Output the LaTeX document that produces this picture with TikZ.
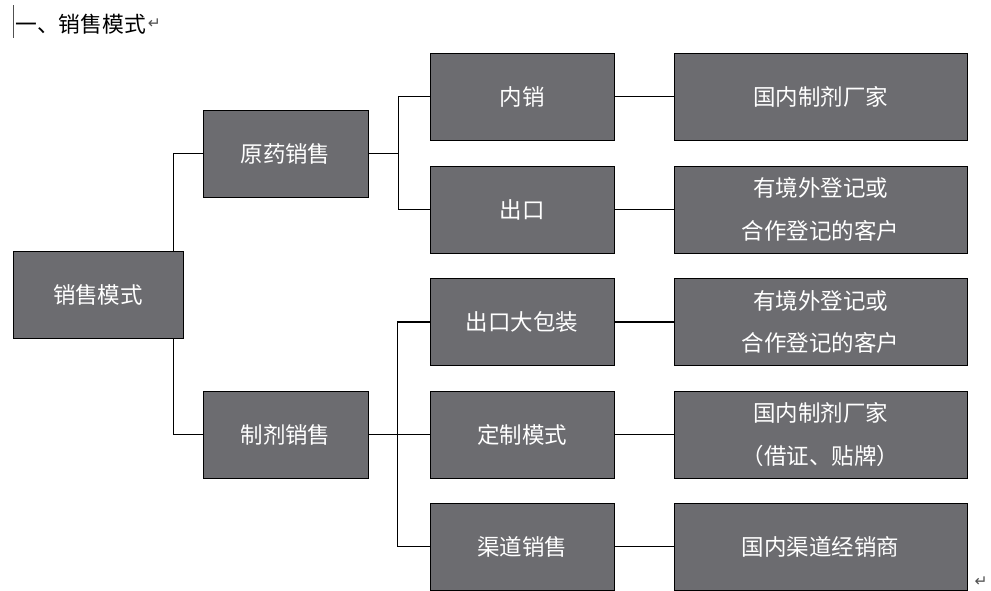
\documentclass[tikz,border=0pt]{standalone}
\usepackage{fontspec}
\usepackage{tikz}
\usetikzlibrary{positioning}
\setmainfont{Noto Sans CJK SC}
\newfontfamily\markfont{DejaVu Sans}
\definecolor{boxgray}{RGB}{108,108,112}
\definecolor{markgray}{RGB}{80,80,80}
\tikzset{
	salebox/.style={draw=black, line width=0.7pt, fill=boxgray, text=white, align=center, inner sep=0pt, minimum height=21.75mm, font=\fontsize{16}{30}\selectfont},
	rootbox/.style={salebox, minimum width=42.5mm},
	kindbox/.style={salebox, minimum width=41.25mm},
	waybox/.style={salebox, minimum width=46mm},
	buyerbox/.style={salebox, minimum width=73.25mm},
	retmark/.style={inner sep=0pt, text=markgray, font=\markfont\fontsize{11}{11}\selectfont},
	link/.style={line width=0.8pt}
}

\begin{document}
\begin{tikzpicture}[x=0.25mm, y=-0.25mm]
	
	\useasboundingbox (0,0) rectangle (991,591);
	
	\draw[line width=0.6pt, markgray] (13,5) -- (13,38);
	\node[anchor=west, inner sep=0pt, font=\fontsize{15.5}{18}\selectfont] (title) at (15,24) {一、销售模式};
	\node[retmark, right=1pt of title] (ret1) {↵};
	
	\node[rootbox] (mode) at (98,295) {销售模式};
	\node[kindbox] (yuan) at (285.5,153.5) {原药销售};
	\node[kindbox] (zhiji) at (285.5,434.5) {制剂销售};
	
	\node[waybox] (neixiao) at (522,96.5) {内销};
	\node[waybox] (chukou) at (522,209.5) {出口};
	\node[waybox] (dabao) at (522,322) {出口大包装};
	\node[waybox] (dingzhi) at (522,434.5) {定制模式};
	\node[waybox] (qudao) at (522,546.5) {渠道销售};
	
	\node[buyerbox] (neixiaoK) at (820.5,96.5) {国内制剂厂家};
	\node[buyerbox] (chukouK) at (820.5,209.5) {有境外登记或\\合作登记的客户};
	\node[buyerbox] (dabaoK) at (820.5,322) {有境外登记或\\合作登记的客户};
	\node[buyerbox] (dingzhiK) at (820.5,434.5) {国内制剂厂家\\（借证、贴牌）};
	\node[buyerbox] (qudaoK) at (820.5,546.5) {国内渠道经销商};
	
	\node[retmark] (ret2) at (981,582) {↵};
	
	\draw[link] (yuan.west) -| ([xshift=-2.5mm]mode.north east);
	\draw[link] (zhiji.west) -| ([xshift=-2.5mm]mode.south east);
	
	\draw[link] (yuan.east) -- ++(30,0) |- (neixiao.west);
	\draw[link] (yuan.east) -- ++(30,0) |- (chukou.west);
	\draw[link] (zhiji.east) -- (dingzhi.west);
	\draw[link] (dabao.west) -- ++(-32,0) |- (qudao.west);
	
	\foreach \way in {neixiao, chukou, dabao, dingzhi, qudao}
		\draw[link] (\way.east) -- (\way K.west);
	
\end{tikzpicture}
\end{document}
